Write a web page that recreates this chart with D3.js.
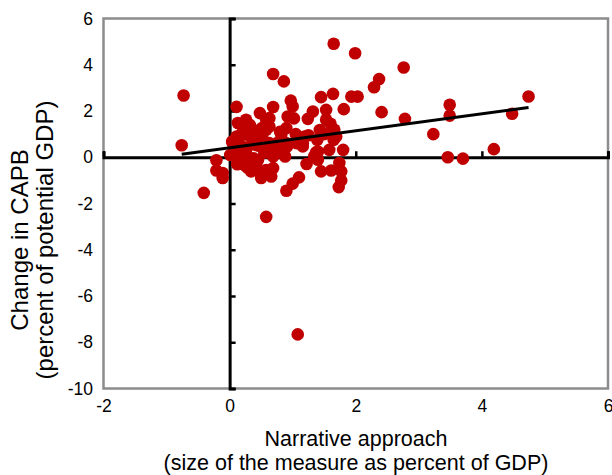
<!DOCTYPE html>
<meta charset="utf-8">
<style>
body { margin: 0; background: #fff; }
text { font-family: "Liberation Sans", Arial, sans-serif; fill: #000; }
.dot { fill: #c00000; }
</style>
<body>
<script src="https://d3js.org/d3.v7.min.js"></script>
<script>

// data: narrative measure (x) and change in CAPB (y)
var narrative = [
  -0.73, -0.76, -0.41, -0.21, -0.21, -0.11, -0.11,
  0.11, 0.69, 0.86, 1.65, 1.99, 2.76, 2.37, 2.29,
  1.45, 1.64, 1.93, 2.03, 1.81, 4.74, 3.49, 3.49, 2.41, 4.48, 2.78, 3.23, 4.19, 3.46, 3.70,
  0.58, 1.08, 0.90, 1.00, 1.10, 1.22, 1.37, 1.40, 1.45, 1.61, 1.74, 1.77, 1.77, 1.73, 1.80, 1.58,
  0.69, 0.66, 0.50, 0.34, 0.26, 0.42, 0.21, 0.11, 0.84, 0.90, 1.16, 1.19,
  0.97, 1.00, 1.32, 1.24, 1.53, 1.53, 1.60, 1.66, 1.69, 0.69, 0.48, 0.26, 0.13, 0.92, 1.02, 0.90,
  0.58, 0.58, 0.37, 0.11, 0.05, 1.16, 1.43, 1.39, 1.65, 0.82, 0.91, 0.88, 0.75, 0.63, 0.57, 0.63,
  0.63, 0.51, 0.45, 0.38, 0.23, 0.32, 0.04, 0.14, 0.20, 0.07, 0.01, 0.26, 0.17, 0.23, 0.35, 0.45,
  0.69, 0.75, 1.06, 1.34, 1.40, 0.30, 0.45, 0.52, 0.80, 1.05, 1.25, 1.50, 0.20, 0.35, 0.55, 0.38,
  0.15, 0.28, 0.45, 0.58, 0.12, 0.30
];
var capb = [
  2.67, 0.52, -1.54, -0.13, -0.57, -0.90, -0.68,
  2.18, 3.60, 3.28, 4.91, 4.50, 3.88, 3.38, 3.03,
  2.60, 2.74, 2.62, 2.62, 2.08, 2.63, 2.27, 1.80, 1.95, 1.88, 1.66, 1.00, 0.35, 0.00, -0.06,
  -2.58, -7.66, -1.45, -1.14, -0.87, -0.29, 0.21, -0.11, -0.61, -0.57, -0.25, -0.61, -1.00, -1.29, 0.32, 0.32,
  -0.47, -0.83, -0.90, -0.61, -0.25, -0.32, 0.18, 0.61, 0.18, 0.61, 0.61, 0.90,
  2.45, 2.20, 1.98, 1.66, 2.05, 1.62, 1.45, 1.19, 0.90, 2.17, 1.91, 1.62, 1.48, 1.76, 1.68, 1.26,
  1.62, 1.19, 1.19, 0.90, 0.61, 0.47, 1.18, 0.75, 0.75, 0.97, 0.46, 0.03, 0.32, 0.61, 0.39, 1.33,
  1.69, 1.26, 1.04, 0.75, 1.30, 1.40, 0.68, 0.75, 0.46, 0.32, 0.10, 0.17, -0.12, -0.33, -0.33, -0.12,
  0.03, 0.61, 0.61, 0.03, 0.25, 0.95, 0.50, 0.85, 1.10, 1.00, 0.95, 1.00, 1.05, 0.55, 0.20, -0.05,
  0.30, -0.45, -0.60, -0.55, -0.30, -0.10
];

// fitted line end points
var trendX = [-0.76, 4.74];
var trendY = [0.13, 2.15];

var xTicks = [-2, 0, 2, 4, 6];
var yTicks = [-10, -8, -6, -4, -2, 0, 2, 4, 6];

var width = 612, height = 475;

var x = d3.scaleLinear().domain([-2, 6]).range([103.5, 608]);
var y = d3.scaleLinear().domain([-10, 6]).range([388.5, 18.5]);

var svg = d3.select("body").append("svg")
    .attr("width", width)
    .attr("height", height);

// plot area frame
svg.append("rect")
    .attr("x", x(-2))
    .attr("y", y(6))
    .attr("width", x(6) - x(-2))
    .attr("height", y(-10) - y(6))
    .attr("fill", "none")
    .attr("stroke", "#8c8c8c")
    .attr("stroke-width", 2.5);

// tick labels along the outer edges (plain hyphen minus, like the original)
var plain = function (d) { return String(d); };
var xLab = svg.append("g")
    .attr("transform", "translate(0," + y(-10) + ")")
    .call(d3.axisBottom(x).tickValues(xTicks).tickSize(0).tickPadding(11).tickFormat(plain));
var yLab = svg.append("g")
    .attr("transform", "translate(" + x(-2) + ",0)")
    .call(d3.axisLeft(y).tickValues(yTicks).tickSize(0).tickPadding(10.5).tickFormat(plain));
[xLab, yLab].forEach(function (g) {
    g.select(".domain").remove();
    g.selectAll("text").attr("font-size", 17.5).attr("font-family", null);
});

// zero lines with their tick marks
var xZero = svg.append("g")
    .attr("transform", "translate(0," + y(0) + ")")
    .call(d3.axisTop(x).tickValues(xTicks).tickSize(6).tickFormat(""));
var yZero = svg.append("g")
    .attr("transform", "translate(" + x(0) + ",0)")
    .call(d3.axisRight(y).tickValues(yTicks).tickSize(6).tickFormat(""));
[xZero, yZero].forEach(function (g) {
    g.select(".domain").attr("stroke", "#000").attr("stroke-width", 3);
    g.selectAll(".tick line").attr("stroke", "#000").attr("stroke-width", 2.5);
});

// points
var pts = narrative.map(function (d, i) { return [d, capb[i]]; });
svg.append("g").selectAll("circle")
    .data(pts)
    .enter().append("circle")
    .attr("class", "dot")
    .attr("cx", function (d) { return x(d[0]); })
    .attr("cy", function (d) { return y(d[1]); })
    .attr("r", 6.3);

// trend line
svg.append("line")
    .attr("x1", x(trendX[0])).attr("y1", y(trendY[0]))
    .attr("x2", x(trendX[1])).attr("y2", y(trendY[1]))
    .attr("stroke", "#000")
    .attr("stroke-width", 3);

// axis titles
var xt = svg.append("text")
    .attr("text-anchor", "middle")
    .attr("font-size", 21.5);
xt.append("tspan").attr("x", 356).attr("y", 446).text("Narrative approach");
xt.append("tspan").attr("x", 356).attr("y", 469.5).text("(size of the measure as percent of GDP)");

var yt = svg.append("text")
    .attr("text-anchor", "middle")
    .attr("font-size", 24)
    .attr("transform", "rotate(-90)");
yt.append("tspan").attr("x", -240).attr("y", 28).text("Change in CAPB");
yt.append("tspan").attr("x", -240).attr("y", 53).text("(percent of potential GDP)");

</script>
</body>
